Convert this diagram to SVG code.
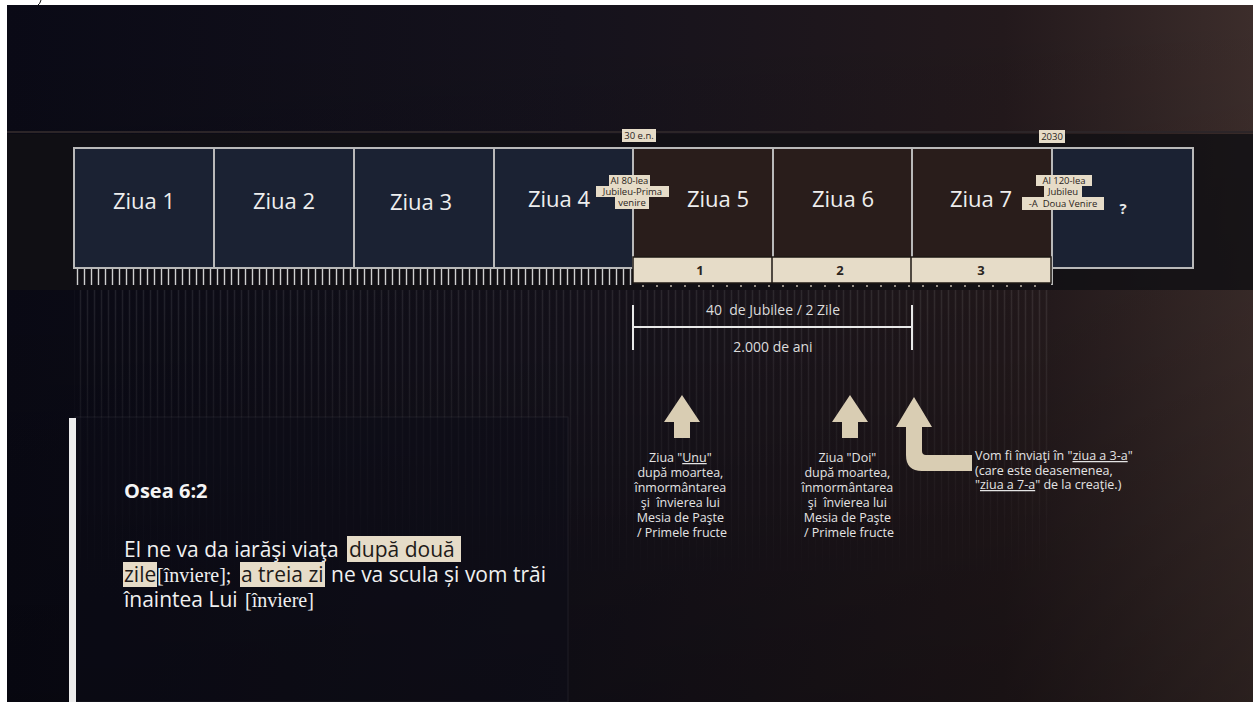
<svg xmlns="http://www.w3.org/2000/svg" width="1253" height="702" viewBox="0 0 1253 702">
<defs>
<linearGradient id="bgH" x1="0" y1="0" x2="1" y2="0">
<stop offset="0" stop-color="#0a0a16"/>
<stop offset="0.45" stop-color="#15121c"/>
<stop offset="0.8" stop-color="#23191c"/>
<stop offset="1" stop-color="#3c2d2b"/>
</linearGradient>
<linearGradient id="bgV" x1="0" y1="0" x2="0" y2="1">
<stop offset="0" stop-color="#000" stop-opacity="0"/>
<stop offset="0.5" stop-color="#000" stop-opacity="0.12"/>
<stop offset="1" stop-color="#000" stop-opacity="0.3"/>
</linearGradient>
<linearGradient id="fade" x1="0" y1="0" x2="0" y2="1">
<stop offset="0" stop-color="#fff" stop-opacity="1"/>
<stop offset="1" stop-color="#fff" stop-opacity="0"/>
</linearGradient>
<mask id="stripeMask"><rect x="0" y="290" width="1253" height="300" fill="url(#fade)"/></mask>
<pattern id="ticks" x="74" y="0" width="7" height="20" patternUnits="userSpaceOnUse">
<line x1="3.5" y1="0" x2="3.5" y2="20" stroke="#cfcfcf" stroke-width="1.4"/>
</pattern>
<pattern id="stripes" x="0" y="0" width="7" height="10" patternUnits="userSpaceOnUse">
<line x1="3.5" y1="0" x2="3.5" y2="10" stroke="#ffffff" stroke-opacity="0.09" stroke-width="1.5"/>
</pattern>
<pattern id="dots" x="640" y="0" width="14" height="4" patternUnits="userSpaceOnUse">
<circle cx="3" cy="2" r="1" fill="#bdb6a8"/>
</pattern>
<style>
.day{font-family:"Open Sans","Noto Sans",sans-serif;font-size:22px;fill:#eeeeee;text-anchor:middle}
.navy{fill:#1b2233}
.brown{fill:#291d1b}
.frame{fill:none;stroke:#b9b9b9;stroke-width:2}
.tag{fill:#e6dcc8}
.tagt{font-family:"Open Sans","Noto Sans",sans-serif;font-size:9.5px;fill:#2a2420;text-anchor:middle}
.num{font-family:"Open Sans","Noto Sans",sans-serif;font-size:13px;font-weight:bold;fill:#2a2420;text-anchor:middle}
.small{font-family:"Open Sans","Noto Sans",sans-serif;font-size:14px;fill:#dcdcdc;text-anchor:middle}
.note{font-family:"Open Sans","Noto Sans",sans-serif;font-size:12.5px;fill:#e4e4e4}
.arrow{fill:#d9cdb3}
.verse{font-family:"Open Sans","Noto Sans",sans-serif;font-size:21px;fill:#f0f0f0}
.serif{font-family:"Liberation Serif",serif;font-size:20px;fill:#f0f0f0}
.hl{fill:#e6dcc8}
.dark{fill:#1e1a18}
.ul{text-decoration:underline}
</style>
</defs>

<g id="background">
<rect x="0" y="0" width="1253" height="702" fill="#ffffff"/>
<rect x="7" y="5" width="1246" height="697" fill="url(#bgH)"/>
<rect x="7" y="5" width="1246" height="697" fill="url(#bgV)"/>
<path d="M41,0 Q40,4 38,5" fill="none" stroke="#111" stroke-width="1"/>
<line x1="7" y1="132" x2="1253" y2="132" stroke="#2c2528" stroke-width="2"/>
<rect x="7" y="134" width="1246" height="156" fill="#121014" fill-opacity="0.85"/>
<rect x="74" y="290" width="978" height="300" fill="url(#stripes)" mask="url(#stripeMask)"/>
</g>

<g id="panel">
<rect x="75" y="417" width="493" height="285" fill="#0e0e18" fill-opacity="0.45" stroke="#ffffff" stroke-opacity="0.07" stroke-width="1"/>
<rect x="69" y="418" width="7" height="284" fill="#ececec"/>
</g>

<g id="day1"><rect class="navy" x="74" y="148" width="140" height="120"/><text class="day" x="144" y="209">Ziua 1</text></g>
<g id="day2"><rect class="navy" x="214" y="148" width="140" height="120"/><text class="day" x="284" y="209">Ziua 2</text></g>
<g id="day3"><rect class="navy" x="354" y="148" width="140" height="120"/><text class="day" x="421" y="210">Ziua 3</text></g>
<g id="day4"><rect class="navy" x="494" y="148" width="139" height="120"/><text class="day" x="559" y="207">Ziua 4</text></g>
<g id="day5"><rect class="brown" x="633" y="148" width="140" height="120"/><text class="day" x="718" y="207">Ziua 5</text></g>
<g id="day6"><rect class="brown" x="773" y="148" width="139" height="120"/><text class="day" x="843" y="207">Ziua 6</text></g>
<g id="day7"><rect class="brown" x="912" y="148" width="140" height="120"/><text class="day" x="981" y="207">Ziua 7</text></g>
<g id="day8"><rect class="navy" x="1052" y="148" width="141" height="120"/><text x="1123" y="214" style="font-family:'Open Sans','Noto Sans',sans-serif;font-size:15px;font-weight:bold;fill:#e8e8e8;text-anchor:middle">?</text></g>

<g id="frames">
<rect class="frame" x="74" y="148" width="1119" height="120"/>
<line class="frame" x1="214" y1="148" x2="214" y2="268"/>
<line class="frame" x1="354" y1="148" x2="354" y2="268"/>
<line class="frame" x1="494" y1="148" x2="494" y2="268"/>
<line class="frame" x1="633" y1="148" x2="633" y2="268"/>
<line class="frame" x1="773" y1="148" x2="773" y2="268"/>
<line class="frame" x1="912" y1="148" x2="912" y2="268"/>
<line class="frame" x1="1052" y1="148" x2="1052" y2="285"/>
<rect x="74" y="269" width="559" height="16" fill="url(#ticks)"/>
</g>

<g id="counter">
<rect class="tag" x="633" y="257" width="418" height="26" stroke="#1e1815" stroke-width="1.5"/>
<line x1="772" y1="257" x2="772" y2="283" stroke="#1e1815" stroke-width="1.5"/>
<line x1="911" y1="257" x2="911" y2="283" stroke="#1e1815" stroke-width="1.5"/>
<text class="num" x="700" y="275">1</text>
<text class="num" x="840" y="275">2</text>
<text class="num" x="981" y="275">3</text>
<rect x="636" y="284" width="412" height="4" fill="url(#dots)"/>
</g>

<g id="label-30en">
<rect class="tag" x="622" y="129" width="34" height="13"/>
<text class="tagt" x="639" y="139">30 e.n.</text>
</g>
<g id="label-2030">
<rect class="tag" x="1039" y="130" width="26" height="13"/>
<text class="tagt" x="1052" y="140">2030</text>
</g>
<g id="label-80">
<rect class="tag" x="609" y="175" width="41" height="11"/>
<rect class="tag" x="596" y="186" width="73" height="11"/>
<rect class="tag" x="615" y="197" width="34" height="12"/>
<text class="tagt" x="629.5" y="184">Al 80-lea</text>
<text class="tagt" x="632.5" y="195">Jubileu-Prima</text>
<text class="tagt" x="632" y="206">venire</text>
</g>
<g id="label-120">
<rect class="tag" x="1036" y="175" width="56" height="11"/>
<rect class="tag" x="1044" y="186" width="38" height="11"/>
<rect class="tag" x="1022" y="197" width="82" height="13"/>
<text class="tagt" x="1064" y="184">Al 120-lea</text>
<text class="tagt" x="1063" y="195">Jubileu</text>
<text class="tagt" x="1063" y="206.5" xml:space="preserve">-A  Doua Venire</text>
</g>

<g id="connectors">
<line x1="633" y1="305" x2="633" y2="350" stroke="#e8e8e8" stroke-width="2"/>
<line x1="633" y1="327" x2="912" y2="327" stroke="#e8e8e8" stroke-width="2"/>
<line x1="912" y1="305" x2="912" y2="350" stroke="#e8e8e8" stroke-width="2"/>
<path class="arrow" d="M682,395 L700,422 L690,422 L690,438 L674,438 L674,422 L664,422 Z"/>
<path class="arrow" d="M850,395 L868,422 L858,422 L858,438 L842,438 L842,422 L832,422 Z"/>
<path class="arrow" d="M914,397 L932,427 L922,427 L922,451 Q922,455 926,455 L972,455 L972,471 L922,471 Q906,471 906,455 L906,427 L896,427 Z"/>
</g>

<g id="measure-text">
<text class="small" x="773" y="315" xml:space="preserve">40  de Jubilee / 2 Zile</text>
<text class="small" x="773" y="352">2.000 de ani</text>
</g>

<g id="note1">
<text class="note" text-anchor="middle">
<tspan x="682" y="462">Ziua "<tspan class="ul">Unu</tspan>"</tspan>
<tspan x="682" y="477">după moartea,</tspan>
<tspan x="682" y="492">înmormântarea</tspan>
<tspan x="682" y="507" xml:space="preserve">şi  învierea lui</tspan>
<tspan x="682" y="522">Mesia de Paşte</tspan>
<tspan x="682" y="537">/ Primele fructe</tspan>
</text>
</g>
<g id="note2">
<text class="note" text-anchor="middle">
<tspan x="849" y="462">Ziua "Doi"</tspan>
<tspan x="849" y="477">după moartea,</tspan>
<tspan x="849" y="492">înmormântarea</tspan>
<tspan x="849" y="507" xml:space="preserve">şi  învierea lui</tspan>
<tspan x="849" y="522">Mesia de Paşte</tspan>
<tspan x="849" y="537">/ Primele fructe</tspan>
</text>
</g>
<g id="note3">
<text class="note">
<tspan x="975" y="460">Vom fi înviaţi în "<tspan class="ul">ziua a 3-a</tspan>"</tspan>
<tspan x="975" y="474.5">(care este deasemenea,</tspan>
<tspan x="975" y="489">"<tspan class="ul">ziua a 7-a</tspan>" de la creaţie.)</tspan>
</text>
</g>

<g id="verse">
<text x="124" y="498" style="font-family:'Open Sans','Noto Sans',sans-serif;font-size:20px;font-weight:bold;fill:#f4f4f4">Osea 6:2</text>
<rect class="hl" x="347" y="536" width="114" height="26"/>
<rect class="hl" x="123" y="562" width="34" height="25"/>
<rect class="hl" x="240" y="562" width="85" height="25"/>
<text class="verse" x="124" y="557">El ne va da iarăşi viaţa</text>
<text class="verse dark" x="349" y="557">după două</text>
<text class="verse dark" x="124" y="582">zile</text>
<text class="serif" x="157" y="582">[înviere];</text>
<text class="verse dark" x="241" y="582">a treia zi</text>
<text class="verse" x="331" y="582">ne va scula și vom trăi</text>
<text class="verse" x="124" y="607">înaintea Lui</text>
<text class="serif" x="245" y="607">[înviere]</text>
</g>
</svg>
